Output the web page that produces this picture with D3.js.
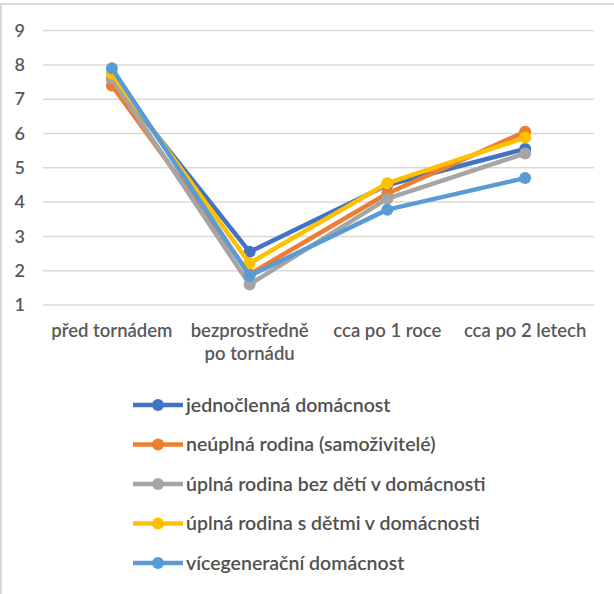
<!DOCTYPE html>
<html>
<head>
<meta charset="utf-8">
<script src="https://cdn.jsdelivr.net/npm/d3@7"></script>
<style>
html,body{margin:0;padding:0;background:#fff;}
svg{display:block;}
</style>
</head>
<body>
<svg id="chart" width="614" height="594"></svg>
<script>
const categories = ["před tornádem", "bezprostředně po tornádu", "cca po 1 roce", "cca po 2 letech"];
const seriesNames = [
  "jednočlenná domácnost",
  "neúplná rodina (samoživitelé)",
  "úplná rodina bez dětí v domácnosti",
  "úplná rodina s dětmi v domácnosti",
  "vícegenerační domácnost"
];
const jednoclenna = [7.6, 2.55, 4.5, 5.55];
const neuplna = [7.4, 1.9, 4.25, 6.05];
const uplnaBezDeti = [7.6, 1.6, 4.1, 5.42];
const uplnaSDetmi = [7.75, 2.22, 4.55, 5.88];
const vicegeneracni = [7.9, 1.85, 3.78, 4.7];
const yTicks = [1, 2, 3, 4, 5, 6, 7, 8, 9];
const colors = ["#4472C4", "#ED7D31", "#A5A5A5", "#FFC000", "#5B9BD5"];

const allSeries = [jednoclenna, neuplna, uplnaBezDeti, uplnaSDetmi, vicegeneracni];

const svg = d3.select("#chart");
const font = "Lato, 'Open Sans', sans-serif";
const textColor = "#595959";

// chart border
svg.append("rect").attr("x", 1).attr("y", 4).attr("width", 640).attr("height", 620)
  .attr("fill", "none").attr("stroke", "#d9d9d9").attr("stroke-width", 2);

const mLeft = 43, mRight = 594, mTop = 30.6, mBottom = 305;
const x = d3.scaleBand().domain(categories).range([mLeft, mRight]);
const y = d3.scaleLinear().domain([1, 9]).range([mBottom, mTop]);

// gridlines
svg.append("g").selectAll("line").data(yTicks).join("line")
  .attr("x1", mLeft).attr("x2", mRight)
  .attr("y1", d => y(d)).attr("y2", d => y(d))
  .attr("stroke", "#d9d9d9").attr("stroke-width", 1.5);

// y axis labels
const yAxis = svg.append("g").attr("transform", `translate(${mLeft - 18},0)`)
  .call(d3.axisLeft(y).tickValues(yTicks).tickSize(0).tickPadding(0).tickFormat(d3.format("d")));
yAxis.select(".domain").remove();
yAxis.selectAll("text").attr("font-family", font).attr("font-size", 18)
  .attr("fill", textColor).attr("font-weight", 600);

// x axis labels
const xAxis = svg.append("g").attr("transform", `translate(0,${mBottom})`)
  .call(d3.axisBottom(x).tickSize(0).tickPadding(0));
xAxis.select(".domain").remove();
xAxis.selectAll("text").attr("font-family", font).attr("font-size", 18.5)
  .attr("fill", textColor).attr("font-weight", 600)
  .each(function(d) {
    const t = d3.select(this);
    const words = d.split(" ");
    t.text(null);
    let line = [];
    let lines = [];
    let tmp = t.append("tspan");
    for (const w of words) {
      line.push(w);
      tmp.text(line.join(" "));
      if (tmp.node().getComputedTextLength() > x.bandwidth() - 4 && line.length > 1) {
        line.pop();
        lines.push(line.join(" "));
        line = [w];
      }
    }
    lines.push(line.join(" "));
    tmp.remove();
    lines.forEach((l, i) => {
      t.append("tspan").attr("x", 0).attr("y", 0).attr("dy", (32 + i * 23) + "px").text(l);
    });
  });

// lines
const line = d3.line().x((d, i) => x(categories[i]) + x.bandwidth() / 2).y(d => y(d));
const gSeries = svg.append("g");
allSeries.forEach((s, k) => {
  gSeries.append("path").datum(s).attr("d", line).attr("fill", "none")
    .attr("stroke", colors[k]).attr("stroke-width", 4.5)
    .attr("stroke-linejoin", "round").attr("stroke-linecap", "round");
  gSeries.append("g").selectAll("circle").data(s).join("circle")
    .attr("cx", (d, i) => x(categories[i]) + x.bandwidth() / 2)
    .attr("cy", d => y(d)).attr("r", 6).attr("fill", colors[k]);
});

// legend
const legend = svg.append("g");
const lgY = d3.scalePoint().domain(seriesNames).range([405, 563]);
seriesNames.forEach((n, k) => {
  const g = legend.append("g").attr("transform", `translate(0,${lgY(n)})`);
  g.append("line").attr("x1", 133).attr("x2", 183).attr("y1", 0).attr("y2", 0)
    .attr("stroke", colors[k]).attr("stroke-width", 4.5);
  g.append("circle").attr("cx", 158).attr("cy", 0).attr("r", 6).attr("fill", colors[k]);
  g.append("text").attr("x", 186).attr("y", 0).attr("dy", "0.35em")
    .attr("font-family", font).attr("font-size", 19.5).attr("font-weight", 600)
    .attr("fill", "#505050").text(n);
});
</script>
</body>
</html>
